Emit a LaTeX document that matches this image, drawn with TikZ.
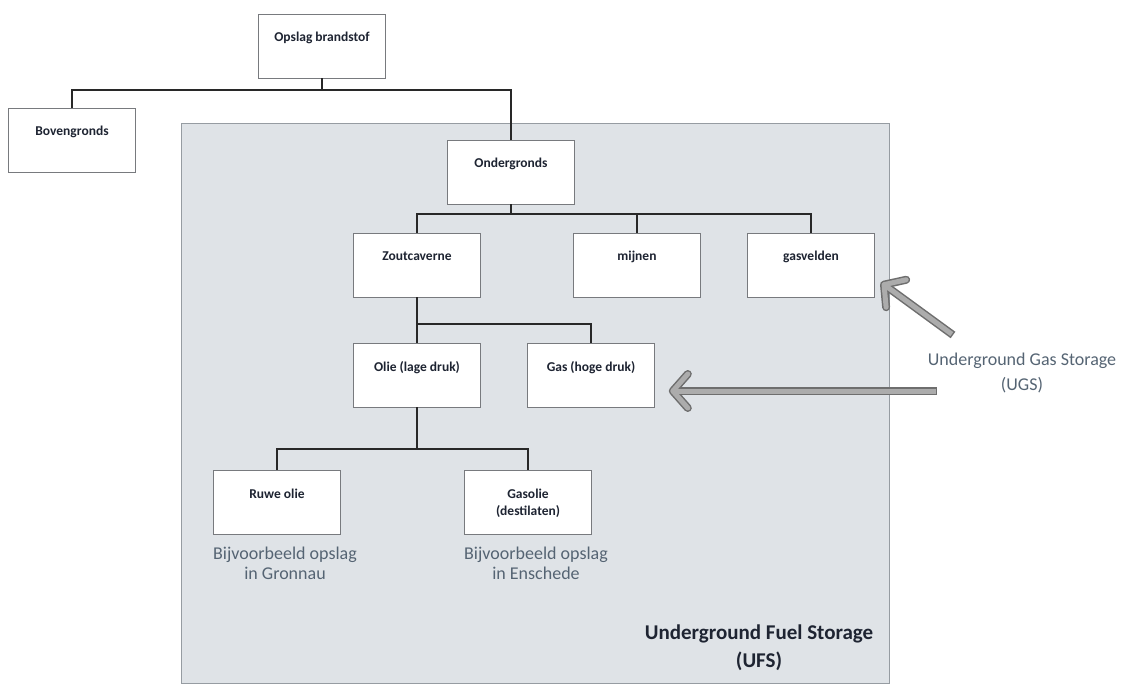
\documentclass[tikz,border=0pt]{standalone}
\usepackage{fontspec}
\setmainfont{Carlito}
\usetikzlibrary{arrows.meta}

\definecolor{vlak}{RGB}{223,227,231}
\definecolor{vlakrand}{RGB}{150,156,162}
\definecolor{vakrand}{RGB}{120,122,126}
\definecolor{vaktekst}{RGB}{30,36,50}
\definecolor{taklijn}{RGB}{40,40,40}
\definecolor{grijstekst}{RGB}{85,100,115}
\definecolor{pijldonker}{RGB}{110,110,110}
\definecolor{pijllicht}{RGB}{172,172,172}

\begin{document}
\begin{tikzpicture}[x=1pt,y=-1pt,
    vak/.style={draw=vakrand, fill=white, line width=.6pt, minimum width=127pt,
      inner xsep=2pt, inner ysep=0pt, text height=28pt, text depth=36pt,
      align=center, text=vaktekst, font=\fontsize{13.5}{17}\selectfont\bfseries},
    tak/.style={draw=taklijn, line width=1.7pt},
    pijlrand/.style={draw=pijldonker, line width=8pt,
      -{Straight Barb[round, length=15pt, width=34pt]}},
    pijlvul/.style={draw=pijllicht, line width=5pt, shorten >=1.5pt, shorten <=1.5pt,
      -{Straight Barb[round, length=15pt, width=34pt]}}]

  \useasboundingbox (0,0) rectangle (1121,684);

  % grijs vlak (UFS)
  \filldraw[fill=vlak, draw=vlakrand, line width=.8pt] (181,123) rectangle (889,683);

  \begin{scope}[every node/.style=vak]
    \node (opslag)    at (322,46)  {Opslag brandstof};
    \node (boven)     at (72,140)  {Bovengronds};
    \node (onder)     at (511,172) {Ondergronds};
    \node (zout)      at (417,265) {Zoutcaverne};
    \node (mijnen)    at (637,265) {mijnen};
    \node (gasvelden) at (811,265) {gasvelden};
    \node (olie)      at (417,375) {Olie (lage druk)};
    \node (gas)       at (591,375) {Gas (hoge druk)};
    \node (ruwe)      at (277,502) {Ruwe olie};
    \node[text height=45pt, text depth=19pt] (gasolie) at (528,502) {Gasolie\\(destilaten)};
  \end{scope}

  \begin{scope}[every path/.style=tak]
    \draw (opslag.south) -- ++(0,12) -| (boven.north);
    \draw (opslag.south) -- ++(0,12) -| (onder.north);
    \draw (onder.south) -- ++(0,10) -| (zout.north);
    \draw (onder.south) -- ++(0,10) -| (mijnen.north);
    \draw (onder.south) -- ++(0,10) -| (gasvelden.north);
    \draw (zout.south) -- ++(0,27) -| (olie.north);
    \draw (zout.south) -- ++(0,27) -| (gas.north);
    \draw (olie.south) -- ++(0,42) -| (ruwe.north);
    \draw (olie.south) -- ++(0,42) -| (gasolie.north);
  \end{scope}

  \begin{scope}[every node/.style={align=center, text=grijstekst,
      font=\fontsize{18}{20}\selectfont}]
    \node (bijv1) at (285,563) {Bijvoorbeeld opslag\\in Gronnau};
    \node (bijv2) at (536,563) {Bijvoorbeeld opslag\\in Enschede};
    \node[font=\fontsize{18}{25}\selectfont] (ugs) at (1022,373) {Underground Gas Storage\\(UGS)};
    \node[text=vaktekst, font=\fontsize{21}{28}\selectfont\bfseries] (ufs) at (759,648)
      {Underground Fuel Storage\\(UFS)};
  \end{scope}

  % pijlen naar de gasopslag
  \coordinate (start1) at (953,335);
  \coordinate (start2) at (937,391);
  \coordinate (punt1) at ([shift={(6,-15)}]gasvelden.south east);
  \coordinate (punt2) at ([shift={(14,16)}]gas.east);
  \draw[pijlrand] (start1) -- (punt1);
  \draw[pijlvul]  (start1) -- (punt1);
  \draw[pijlrand] (start2) -- (punt2);
  \draw[pijlvul]  (start2) -- (punt2);

\end{tikzpicture}
\end{document}
